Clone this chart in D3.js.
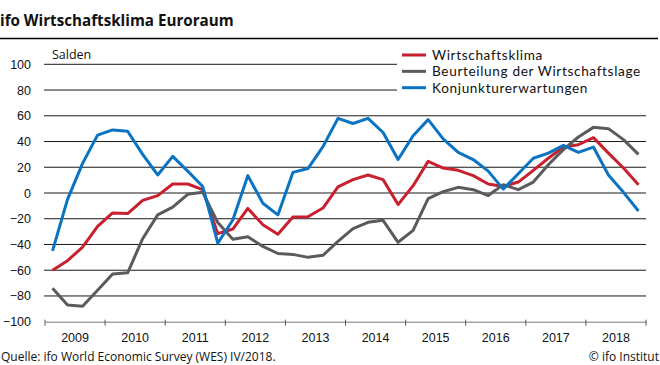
<!DOCTYPE html>
<html>
<head>
<meta charset="utf-8">
<script src="https://cdn.jsdelivr.net/npm/d3@7"></script>
<style>
  html, body { margin: 0; padding: 0; background: #fff; }
  svg { display: block; font-family: "Open Sans", "Noto Sans", sans-serif; }
</style>
</head>
<body>
<svg id="chart" width="660" height="365"></svg>
<script>
// ---- data ----
const years = [2009, 2010, 2011, 2012, 2013, 2014, 2015, 2016, 2017, 2018];
const quarters = years.flatMap(y => ["Q1", "Q2", "Q3", "Q4"].map(q => y + q));
const yTicks = [100, 80, 60, 40, 20, 0, -20, -40, -60, -80, -100];

const wirtschaftsklima = [-60, -52.6, -42, -26, -15.5, -16, -5.7, -2, 7, 7, 2.6, -31.6, -28, -12,
  -24.6, -32, -18.7, -18.4, -11.7, 4.7, 10.4, 14, 10.4, -9, 5.7, 24.6, 19.4,
  17.6, 13.5, 7, 5, 8.5, 17.6, 27, 35.7, 37.5, 43, 31, 19.4, 6.5];
const wirtschaftslage = [-74, -87, -88, -75.6, -63, -62, -35.5, -17, -11, -1, 0.5, -23, -36, -34,
  -41.5, -47, -47.7, -50, -48.4, -37.6, -27.7, -22.8, -21.2, -38.3, -29, -4.4, 1,
  4.4, 2.6, -2, 6.5, 2.6, 8.5, 22, 33.7, 43.5, 51, 50, 41.5, 30];
const erwartungen = [-45, -5, 23, 45, 49, 48, 30, 14, 28.5, 17, 5, -39, -21, 13.5,
  -8, -17, 16, 19, 36, 58, 54, 58, 47, 26, 44.5, 57, 42,
  31.6, 26, 17, 3, 15, 27, 31, 37, 31.6, 35.7, 14, 0.5, -14];

const seriesNames = ["Wirtschaftsklima", "Beurteilung der Wirtschaftslage", "Konjunkturerwartungen"];
const seriesValues = [wirtschaftsklima, wirtschaftslage, erwartungen];
const seriesColors = ["#c8202f", "#5b5b5b", "#0a73c2"];

// ---- layout ----
const svg = d3.select("#chart");
const x = d3.scaleBand().domain(quarters).range([45, 646]).padding(0);
const xYear = d3.scaleBand().domain(years).range([45, 646]).padding(0);
const y = d3.scaleLinear().domain([-100, 100]).range([321.7, 64.3]);

// title + rule
svg.append("text").attr("x", 0).attr("y", 26)
  .attr("font-size", 15.2).attr("font-weight", 700).attr("fill", "#111")
  .text("ifo Wirtschaftsklima Euroraum");
svg.append("line").attr("x1", 0).attr("x2", 658).attr("y1", 38.5).attr("y2", 38.5)
  .attr("stroke", "#000").attr("stroke-width", 1.5);

svg.append("text").attr("x", 52).attr("y", 58.5)
  .attr("font-size", 12.5).attr("fill", "#111").text("Salden");

// grid + y labels
const yAxis = d3.axisLeft(y).tickValues(yTicks).tickSize(0).tickPadding(0).tickFormat(d3.format("d"));
const gy = svg.append("g").attr("transform", "translate(31,0)").call(yAxis);
gy.select(".domain").remove();
gy.selectAll("text").attr("font-size", 12.5).attr("fill", "#111").attr("font-family", "inherit");

const grid = svg.append("g");
grid.selectAll("line").data(yTicks.filter(d => d !== -100)).join("line")
  .attr("x1", 44).attr("x2", 646)
  .attr("y1", d => y(d)).attr("y2", d => y(d))
  .attr("stroke", "#1a1a1a").attr("stroke-width", 1);

// x axis
const xAxis = d3.axisBottom(xYear).tickSize(0).tickPadding(0);
const gx = svg.append("g").attr("transform", `translate(0,${y(-100)})`).call(xAxis);
gx.select(".domain").attr("stroke", "#777");
gx.selectAll(".tick line").remove();
gx.selectAll("text").attr("font-size", 12.5).attr("fill", "#111").attr("font-family", "inherit")
  .attr("dy", null).attr("y", 20);
const boundaries = years.map(yr => xYear(yr)).concat([xYear(years[years.length - 1]) + xYear.bandwidth()]);
gx.selectAll(".bd").data(boundaries).join("line").attr("class", "bd")
  .attr("x1", d => d).attr("x2", d => d).attr("y1", -2).attr("y2", 4)
  .attr("stroke", "#555").attr("stroke-width", 1);

// legend background
svg.append("rect").attr("x", 397).attr("y", 44).attr("width", 263).attr("height", 54).attr("fill", "#fff");

// lines
const line = d3.line().x((d, i) => x(quarters[i]) + x.bandwidth() / 2).y(d => y(d));
svg.append("g").selectAll("path").data(seriesValues).join("path")
  .attr("d", d => line(d)).attr("fill", "none")
  .attr("stroke", (d, i) => seriesColors[i]).attr("stroke-width", 3)
  .attr("stroke-linejoin", "round");

// legend
const lg = svg.append("g").selectAll("g").data(seriesNames).join("g")
  .attr("transform", (d, i) => `translate(402,${55 + i * 16.35})`);
lg.append("line").attr("x1", 0).attr("x2", 24).attr("stroke", (d, i) => seriesColors[i]).attr("stroke-width", 3);
lg.append("text").attr("x", 30).attr("y", 5).attr("font-size", 13.6)
  .attr("font-family", "Lato, 'Open Sans', sans-serif").attr("letter-spacing", 0.65)
  .attr("fill", "#111").text(d => d);

// footer
svg.append("text").attr("x", 1).attr("y", 361).attr("font-size", 12).attr("fill", "#111")
  .text("Quelle: ifo World Economic Survey (WES) IV/2018.");
svg.append("text").attr("x", 659).attr("y", 361).attr("text-anchor", "end").attr("font-size", 12).attr("fill", "#111")
  .text("© ifo Institut");
</script>
</body>
</html>
